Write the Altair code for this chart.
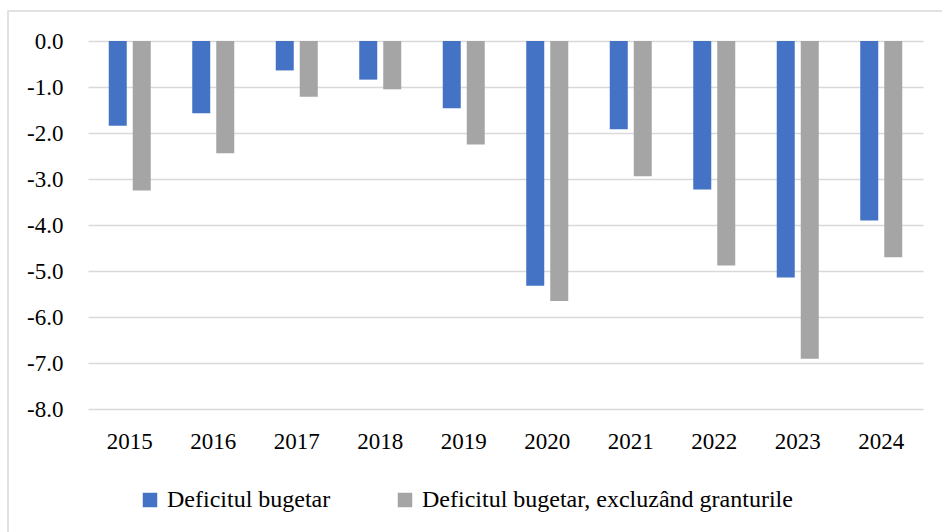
import altair as alt
import pandas as pd

# Budget balance by year, % of GDP
years = ["2015", "2016", "2017", "2018", "2019", "2020", "2021", "2022", "2023", "2024"]
deficit = [-1.84, -1.57, -0.64, -0.84, -1.46, -5.32, -1.92, -3.23, -5.14, -3.90]
deficit_excl_grants = [-3.25, -2.44, -1.21, -1.05, -2.25, -5.65, -2.94, -4.88, -6.91, -4.70]

series_names = ["Deficitul bugetar", "Deficitul bugetar, excluzând granturile"]
series_colors = ["#4472C4", "#A5A5A5"]
y_ticks = [-8, -7, -6, -5, -4, -3, -2, -1, 0]

rows = []
for yr, a, b in zip(years, deficit, deficit_excl_grants):
    rows.append({"an": yr, "serie": series_names[0], "valoare": a})
    rows.append({"an": yr, "serie": series_names[1], "valoare": b})
df = pd.DataFrame(rows)

FONT = "Liberation Serif"

bars = alt.Chart(df).mark_bar().encode(
    x=alt.X(
        "an:N",
        sort=years,
        title=None,
        scale=alt.Scale(paddingInner=0.497, paddingOuter=0.2485),
        axis=alt.Axis(
            labelAngle=0, domain=False, ticks=False, grid=False,
            labelFont=FONT, labelFontSize=23, labelColor="#000000",
            labelPadding=21,
        ),
    ),
    xOffset=alt.XOffset(
        "serie:N", sort=series_names,
        scale=alt.Scale(paddingInner=0.25, paddingOuter=0),
    ),
    y=alt.Y(
        "valoare:Q",
        title=None,
        scale=alt.Scale(domain=[-8, 0], nice=False, zero=False),
        axis=alt.Axis(
            values=y_ticks, domain=False, ticks=False, grid=True,
            gridColor="#d9d9d9", gridWidth=1.5,
            labelExpr="datum.value < 0 ? '-' + format(-datum.value, '.1f') : format(datum.value, '.1f')",
            labelFont=FONT, labelFontSize=23, labelColor="#000000",
            labelPadding=25,
        ),
    ),
    color=alt.Color(
        "serie:N",
        sort=series_names,
        scale=alt.Scale(domain=series_names, range=series_colors),
        legend=alt.Legend(
            title=None, orient="none", direction="horizontal",
            legendX=50, legendY=447,
            symbolType="square", symbolSize=210, symbolStrokeWidth=0,
            labelFont=FONT, labelFontSize=24, labelColor="#000000",
            labelOffset=5, columnPadding=62, padding=0, labelLimit=600,
        ),
    ),
)

# Light frame around the chart
frame = alt.Chart(alt.Data(values=[{}])).mark_rect(
    fill="transparent", stroke="#d9d9d9", strokeWidth=1.5
).encode(
    x=alt.value(-80), x2=alt.value(880),
    y=alt.value(-30), y2=alt.value(520),
)

chart = alt.layer(frame, bars).properties(
    width=835,
    height=368,
    padding={"left": 88, "top": 41, "right": 19, "bottom": 123},
    autosize=alt.AutoSizeParams(type="none"),
    background="#ffffff",
).configure_view(
    stroke=None
).configure_legend(
    labelFont=FONT
).configure_axis(
    labelFont=FONT
)

chart.save("out.html", embed_options={"renderer": "svg", "actions": False})
